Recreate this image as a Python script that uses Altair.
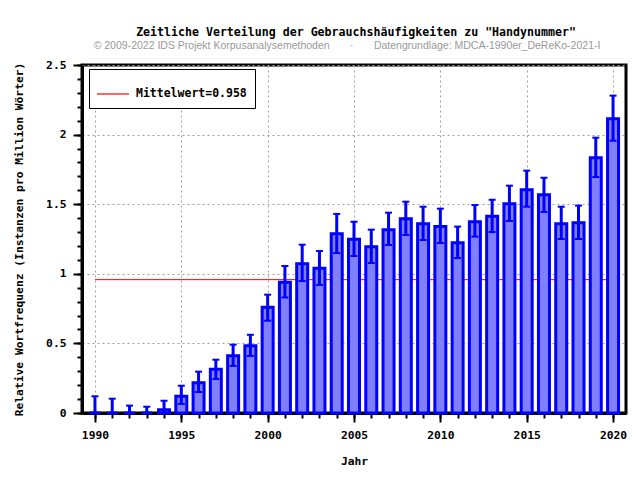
import altair as alt
import pandas as pd

years = [1990, 1991, 1992, 1993, 1994, 1995, 1996, 1997, 1998, 1999,
         2000, 2001, 2002, 2003, 2004, 2005, 2006, 2007, 2008, 2009,
         2010, 2011, 2012, 2013, 2014, 2015, 2016, 2017, 2018, 2019, 2020]
freq = [0, 0, 0, 0, 0.024, 0.12, 0.218, 0.314, 0.412, 0.484,
        0.759, 0.939, 1.073, 1.039, 1.288, 1.248, 1.195, 1.317, 1.396, 1.36,
        1.339, 1.223, 1.374, 1.413, 1.504, 1.604, 1.568, 1.36, 1.367, 1.834, 2.114]
err_low = [0, 0, 0, 0, 0, 0.065, 0.151, 0.244, 0.338, 0.41,
           0.663, 0.83, 0.948, 0.92, 1.149, 1.128, 1.078, 1.207, 1.279, 1.243,
           1.221, 1.113, 1.267, 1.30, 1.379, 1.482, 1.444, 1.25, 1.25, 1.695, 1.956]
err_high = [0.12, 0.103, 0.053, 0.045, 0.088, 0.196, 0.297, 0.383, 0.491, 0.562,
            0.85, 1.056, 1.209, 1.164, 1.43, 1.374, 1.317, 1.439, 1.518, 1.482,
            1.468, 1.339, 1.494, 1.532, 1.633, 1.741, 1.69, 1.482, 1.49, 1.978, 2.28]
mean_value = 0.958
mean_label = "Mittelwert=0.958"
x_major = [1990, 1995, 2000, 2005, 2010, 2015, 2020]
y_major = [0, 0.5, 1, 1.5, 2, 2.5]
y_minor = [0, 0.1, 0.2, 0.3, 0.4, 0.5, 0.6, 0.7, 0.8, 0.9, 1.0, 1.1, 1.2,
           1.3, 1.4, 1.5, 1.6, 1.7, 1.8, 1.9, 2.0, 2.1, 2.2, 2.3, 2.4, 2.5]

NB = "\u00a0"
BLANK = "\u2800"
title_text = BLANK * 2 + 'Zeitliche Verteilung der Gebrauchshäufigkeiten zu "Handynummer"'
subtitle_text = ("© 2009-2022 IDS Projekt Korpusanalysemethoden" + NB * 7 + "·" + NB * 7
                 + "Datengrundlage: MDCA-1990er_DeReKo-2021-I")

df = pd.DataFrame({"Jahr": years, "freq": freq, "lo": err_low, "hi": err_high})
mean_df = pd.DataFrame({"start": [years[0]], "end": [years[-1]],
                        "mean": [mean_value], "label": [mean_label]})

MONO = "DejaVu Sans Mono"
BLUE = "#0000ff"
RED = "#ff0000"
x_scale = alt.Scale(domain=[1989.25, 2020.75], nice=False, zero=False, padding=0)
y_scale = alt.Scale(domain=[0, 2.5], nice=False, padding=0)

major_x_axis = alt.Axis(values=x_major, format="d", title="Jahr", orient="bottom",
                        tickSize=9, grid=True, labelPadding=7, titlePadding=15,
                        labelFlush=False, labelOverlap=False)
minor_x_axis = alt.Axis(values=years, labels=False, title=None, orient="bottom",
                        tickSize=5, grid=False, domain=False)
major_y_axis = alt.Axis(values=y_major, format="~g",
                        title="Relative Wortfrequenz (Instanzen pro Million Wörter)",
                        orient="left", tickSize=9, grid=True, labelPadding=7,
                        titlePadding=21, labelFlush=False, labelOverlap=False)
minor_y_axis = alt.Axis(values=y_minor, labels=False, title=None, orient="left",
                        tickSize=5, grid=False, domain=False)

mean_rule = alt.Chart(mean_df).mark_rule(strokeWidth=1, opacity=1).encode(
    x=alt.X("start:Q", scale=x_scale, axis=None),
    x2="end:Q",
    y=alt.Y("mean:Q", scale=y_scale, axis=None),
    color=alt.Color("label:N", scale=alt.Scale(range=[RED]),
                    legend=alt.Legend(title=None, orient="none", legendX=7, legendY=4,
                                      strokeColor="black", fillColor="white",
                                      padding=8, symbolType="stroke", symbolSize=1024,
                                      symbolStrokeWidth=1.2, symbolOffset=-1,
                                      symbolOpacity=1, symbolStrokeColor=RED,
                                      labelFont=MONO, labelFontWeight="bold",
                                      labelFontSize=11.5, labelOffset=6,
                                      labelColor="black")),
)

bars = alt.Chart(df).mark_bar(size=11, fill="#8080ff", stroke=BLUE, strokeWidth=3,
                              orient="vertical", opacity=1).encode(
    x=alt.X("Jahr:Q", scale=x_scale, axis=major_x_axis),
    y=alt.Y("freq:Q", scale=y_scale, axis=major_y_axis),
)

err = alt.Chart(df).mark_rule(color=BLUE, strokeWidth=3).encode(
    x=alt.X("Jahr:Q", scale=x_scale, axis=None),
    y=alt.Y("lo:Q", scale=y_scale, axis=None),
    y2="hi:Q",
)

cap_hi = alt.Chart(df).mark_tick(orient="horizontal", size=7, thickness=2,
                                 color=BLUE, opacity=1).encode(
    x=alt.X("Jahr:Q", scale=x_scale, axis=minor_x_axis),
    y=alt.Y("hi:Q", scale=y_scale, axis=minor_y_axis),
)
cap_lo = alt.Chart(df).mark_tick(orient="horizontal", size=7, thickness=2,
                                 color=BLUE, opacity=1).encode(
    x=alt.X("Jahr:Q", scale=x_scale, axis=None),
    y=alt.Y("lo:Q", scale=y_scale, axis=None),
)

chart = alt.layer(mean_rule, bars, err, cap_hi, cap_lo).resolve_axis(
    x="independent", y="independent"
).properties(
    width=544, height=348,
    autosize="none",
    padding={"left": 82, "top": 65, "right": 14, "bottom": 67},
    title=alt.Title(text=title_text, subtitle=subtitle_text, anchor="middle",
                    font=MONO, fontSize=11.6, fontWeight="bold", color="black",
                    subtitleFont="Liberation Sans", subtitleFontSize=10.5,
                    subtitleColor="#999999", offset=8, subtitlePadding=2, dx=-7),
).configure_view(
    stroke="black", strokeWidth=3
).configure_axis(
    domainColor="black", domainWidth=3, tickColor="black", tickWidth=2,
    labelFont=MONO, labelFontWeight="bold", labelFontSize=11.3, labelColor="black",
    titleFont=MONO, titleFontWeight="bold", titleFontSize=11.3, titleColor="black",
    gridColor="#a0a0a0", gridDash=[2, 3], gridWidth=1,
)

chart.save("out.html", embed_options={"renderer": "svg", "actions": False})
